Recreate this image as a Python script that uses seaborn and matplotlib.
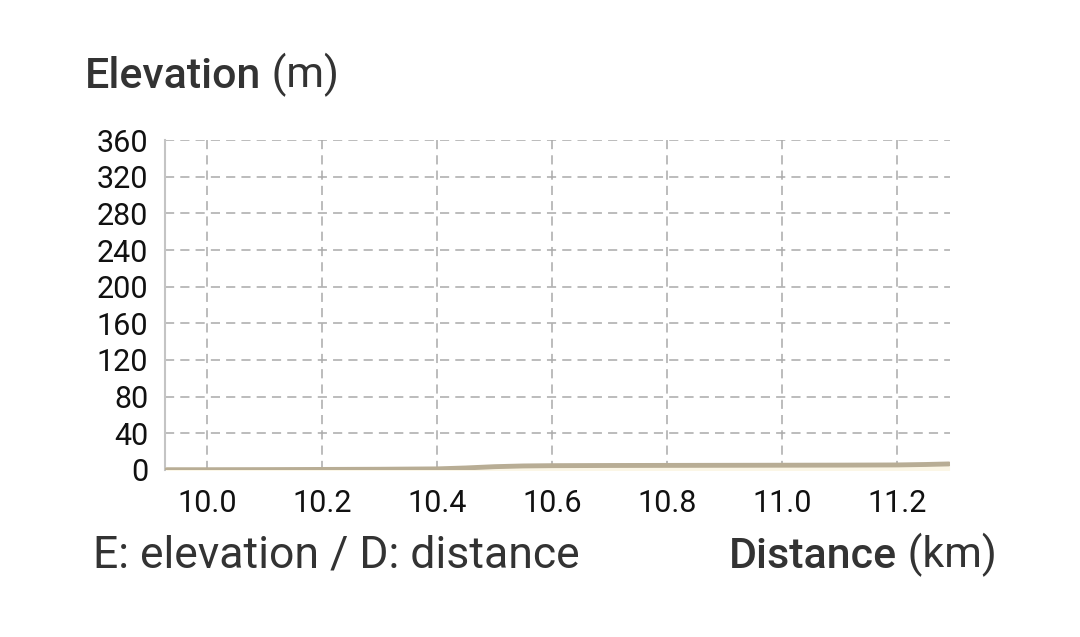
import matplotlib
matplotlib.use("Agg")
import matplotlib.pyplot as plt
import seaborn as sns
import pandas as pd

# Elevation profile (distance in km, elevation in m)
distance_km = [9.93, 10.0, 10.1, 10.2, 10.3, 10.4, 10.45, 10.5, 10.55, 10.6,
               10.7, 10.8, 10.9, 11.0, 11.1, 11.2, 11.25, 11.29]
elevation_m = [0.3, 0.3, 0.4, 0.6, 0.8, 1.2, 2.2, 3.6, 4.4, 4.7,
               4.9, 5.0, 5.1, 5.2, 5.3, 5.5, 6.0, 6.6]
y_ticks = [0, 40, 80, 120, 160, 200, 240, 280, 320, 360]
x_ticks = [10.0, 10.2, 10.4, 10.6, 10.8, 11.0, 11.2]

df = pd.DataFrame({"distance": distance_km, "elevation": elevation_m})

sns.set_theme(style="white")
plt.rcParams["font.family"] = ["Roboto", "DejaVu Sans"]

fig = plt.figure(figsize=(10.8, 6.37), dpi=100)
ax = fig.add_axes([0.1528, 0.2622, 0.7268, 0.518])

ax.fill_between(df["distance"], df["elevation"], 0, color="#fbf6e6", zorder=1)
sns.lineplot(data=df, x="distance", y="elevation", ax=ax, color="#b8ad95",
             linewidth=3.5, zorder=3)

ax.set_xlim(9.927, 11.292)
ax.set_ylim(0, 360)
ax.set_xticks(x_ticks)
ax.set_xticklabels([f"{t:.1f}" for t in x_ticks])
ax.set_yticks(y_ticks)
ax.set_xlabel("")
ax.set_ylabel("")
ax.tick_params(axis="both", length=0, labelsize=22, colors="#111111")
ax.tick_params(axis="y", pad=12)
ax.tick_params(axis="x", pad=14)

ax.grid(True, color="#aaaaaa", linestyle=(0, (6, 4)), linewidth=1.1, zorder=0)
for side in ["top", "right", "bottom"]:
    ax.spines[side].set_visible(False)
ax.spines["left"].set_color("#c4c4c4")
ax.spines["left"].set_linewidth(1.5)

# titles
t1 = fig.text(85 / 1080, 1 - 88 / 637, "Elevation", fontsize=31, fontweight="medium",
              color="#333333", va="baseline", ha="left")
ax.annotate(" (m)", xy=(1, 0), xycoords=t1, va="bottom", ha="left",
            fontsize=31, color="#333333", annotation_clip=False)

fig.text(93 / 1080, 1 - 568 / 637, "E: elevation / D: distance", fontsize=32,
         color="#333333", va="baseline", ha="left")
t2 = fig.text(729 / 1080, 1 - 568 / 637, "Distance", fontsize=31, fontweight="medium",
              color="#333333", va="baseline", ha="left")
ax.annotate(" (km)", xy=(1, 0), xycoords=t2, va="bottom", ha="left",
            fontsize=31, color="#333333", annotation_clip=False)

fig.savefig("out.png", dpi=100, facecolor="white")
